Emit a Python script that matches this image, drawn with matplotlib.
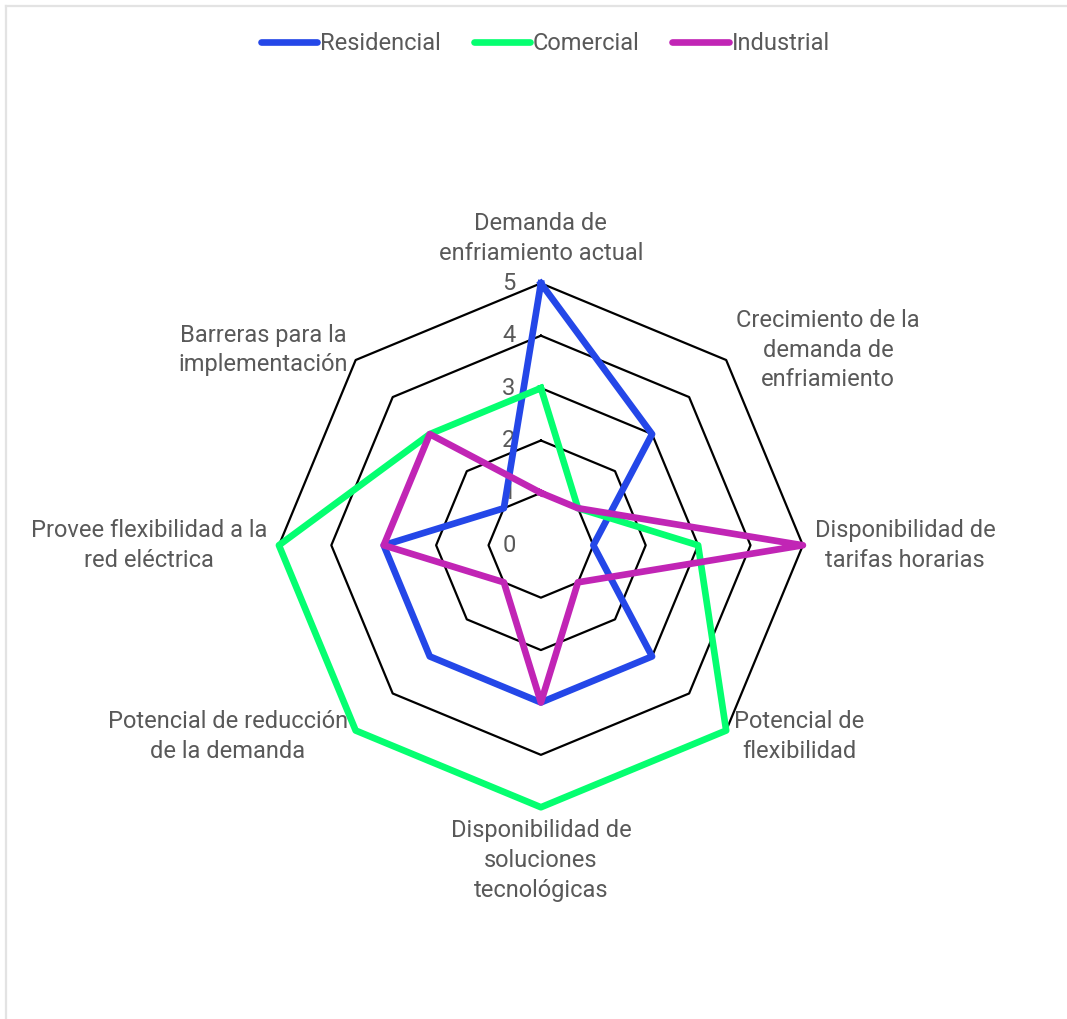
import numpy as np
import matplotlib
matplotlib.use("Agg")
import matplotlib.pyplot as plt
from matplotlib.lines import Line2D

plt.rcParams['font.family'] = ['Roboto', 'DejaVu Sans']

categories = [
    "Demanda de\nenfriamiento actual",
    "Crecimiento de la\ndemanda de\nenfriamiento",
    "Disponibilidad de\ntarifas horarias",
    "Potencial de\nflexibilidad",
    "Disponibilidad de\nsoluciones\ntecnológicas",
    "Potencial de reducción\nde la demanda",
    "Provee flexibilidad a la\nred eléctrica",
    "Barreras para la\nimplementación",
]
residencial = [5, 3, 1, 3, 3, 3, 3, 1]
comercial = [3, 1, 3, 5, 5, 5, 5, 3]
industrial = [1, 1, 5, 1, 3, 1, 3, 3]
series_names = ["Residencial", "Comercial", "Industrial"]
series_colors = ["#2447E8", "#05FF70", "#C125B5"]
ticks = [0, 1, 2, 3, 4, 5]

text_color = "#595959"

fig = plt.figure(figsize=(10.67, 10.19), dpi=100)
# light frame at left / top like the source screenshot
fig.add_artist(Line2D([0.006, 0.006], [0, 0.994], color="#e3e3e3", lw=1.6))
fig.add_artist(Line2D([0.006, 1], [0.994, 0.994], color="#e3e3e3", lw=1.6))

ax = fig.add_axes([0.2614, 0.2078, 0.4911, 0.5142], projection="polar")
ax.set_theta_offset(np.pi / 2)
ax.set_theta_direction(-1)
ax.set_ylim(0, 5)
ax.axis("off")

n = len(categories)
angles = np.linspace(0, 2 * np.pi, n, endpoint=False)
closed = np.append(angles, angles[0])

# octagon grid
for r in ticks[1:]:
    ax.plot(closed, [r] * (n + 1), color="black", lw=1.6, zorder=1, clip_on=False)

for vals, name, col in zip([residencial, comercial, industrial], series_names, series_colors):
    ax.plot(closed, vals + vals[:1], color=col, lw=4.8, label=name, zorder=3,
            clip_on=False, solid_joinstyle="round")

# radial tick labels
for t in ticks:
    ax.annotate(str(t), xy=(0, t), xytext=(-32, 0), textcoords="offset pixels",
                ha="center", va="center", fontsize=17, color=text_color, zorder=2)

# category labels
label_pos = [
    ((0, 18), "center", "bottom"),
    ((10, 10), "left", "center"),
    ((12, 0), "left", "center"),
    ((8, -6), "left", "center"),
    ((0, -12), "center", "top"),
    ((-8, -6), "right", "center"),
    ((-12, 0), "right", "center"),
    ((-8, 10), "right", "center"),
]
for ang, lab, (off, ha, va) in zip(angles, categories, label_pos):
    ax.annotate(lab, xy=(ang, 5), xytext=off, textcoords="offset pixels",
                ha=ha, va=va, multialignment="center", fontsize=17,
                linespacing=1.38, color=text_color, annotation_clip=False)

handles = [Line2D([0], [0], color=c, lw=4.8, solid_capstyle="round") for c in series_colors]
fig.legend(handles, series_names, loc="center", bbox_to_anchor=(0.511, 0.957), ncol=3,
           frameon=False, fontsize=17, handlelength=2.4, handletextpad=0.1,
           columnspacing=1.4, labelcolor=text_color)

fig.savefig("out.png", dpi=100, facecolor="white")
